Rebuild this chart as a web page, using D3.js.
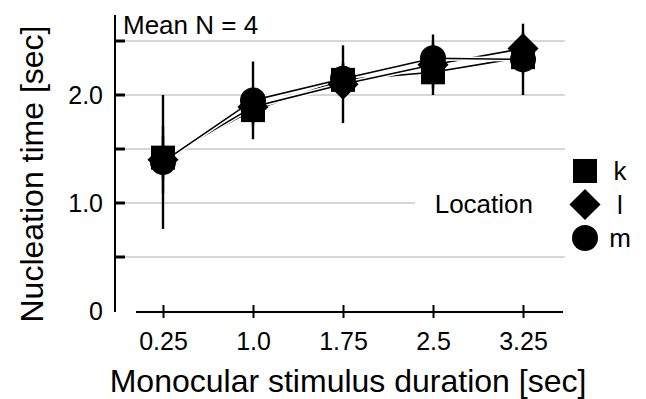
<!DOCTYPE html>
<html>
<head>
<meta charset="utf-8">
<script src="https://cdn.jsdelivr.net/npm/d3@7"></script>
<style>
  body { margin: 0; background: #fff; }
  svg text { font-family: "Liberation Sans", Arial, Helvetica, sans-serif; fill: #000; }
</style>
</head>
<body>
<svg id="chart" width="646" height="399"></svg>
<script>
// durations (x) and their labels
const durations = [0.25, 1.0, 1.75, 2.5, 3.25]
const durationLabels = ['0.25', '1.0', '1.75', '2.5', '3.25']

// mean nucleation time per location, and half-length of error bars
const locations = ['k', 'l', 'm']
const meanK = [1.42, 1.86, 2.14, 2.21, 2.35]
const meanL = [1.40, 1.89, 2.10, 2.28, 2.43]
const meanM = [1.38, 1.95, 2.15, 2.34, 2.33]
const errK = [0.20, 0.15, 0.15, 0.15, 0.15]
const errL = [0.31, 0.15, 0.36, 0.28, 0.15]
const errM = [0.62, 0.36, 0.15, 0.15, 0.33]

const yTicks = [0.5, 1.0, 1.5, 2.0, 2.5]
const yLabels = [[0, '0'], [1.0, '1.0'], [2.0, '2.0']]

const series = [
    {name: 'k', shape: 'square', mean: meanK, err: errK},
    {name: 'l', shape: 'diamond', mean: meanL, err: errL},
    {name: 'm', shape: 'circle', mean: meanM, err: errM}
]

const svg = d3.select('#chart')

const x = d3.scaleLinear().domain([0.25, 3.25]).range([163, 523])
const y = d3.scaleLinear().domain([0, 2.5]).range([311, 41])

// grid
const grid = svg.append('g')
grid.selectAll('line').data(yTicks).enter().append('line')
    .attr('x1', 125)
    .attr('x2', d => d === 1.0 ? 415 : 565)
    .attr('y1', d => y(d)).attr('y2', d => y(d))
    .attr('stroke', '#c8c8c8').attr('stroke-width', 1.5)

// y axis
svg.append('line')
    .attr('x1', 115).attr('x2', 115)
    .attr('y1', 15).attr('y2', y(0) + 1)
    .attr('stroke', '#000').attr('stroke-width', 2)
svg.selectAll('.ytick').data(yTicks).enter().append('line')
    .attr('class', 'ytick')
    .attr('x1', 115).attr('x2', 125)
    .attr('y1', d => y(d)).attr('y2', d => y(d))
    .attr('stroke', '#000').attr('stroke-width', 3)
svg.selectAll('.ylab').data(yLabels).enter().append('text')
    .attr('class', 'ylab')
    .attr('x', 103).attr('y', d => y(d[0]))
    .attr('dy', '0.36em')
    .attr('text-anchor', 'end')
    .style('font-size', '25px')
    .text(d => d[1])

// x axis
const xAxis = d3.axisBottom(x)
    .tickValues(durations)
    .tickFormat((d, i) => durationLabels[i])
    .tickSize(6)
    .tickPadding(14)
const gx = svg.append('g').attr('transform', 'translate(0,312)').call(xAxis)
gx.select('.domain').remove()
gx.insert('line', ':first-child')
    .attr('x1', 136).attr('x2', 563)
    .attr('stroke', '#000').attr('stroke-width', 2)
gx.selectAll('.tick line').attr('y1', -7).attr('y2', 6)
    .attr('stroke', '#000').attr('stroke-width', 2)
gx.selectAll('.tick text')
    .style('font-size', '25px')
    .style('font-family', '"Liberation Sans", Arial, sans-serif')
    .attr('fill', '#000')

// axis titles
svg.append('text')
    .attr('x', 348).attr('y', 392)
    .attr('text-anchor', 'middle')
    .style('font-size', '32px')
    .text('Monocular stimulus duration [sec]')
svg.append('text')
    .attr('transform', 'translate(43,174) rotate(-90)')
    .attr('text-anchor', 'middle')
    .style('font-size', '32px')
    .text('Nucleation time [sec]')

svg.append('text')
    .attr('x', 123).attr('y', 34)
    .style('font-size', '26px')
    .text('Mean N = 4')

// error bars
series.forEach(s => {
    svg.append('g').selectAll('line').data(durations).enter().append('line')
        .attr('x1', d => x(d)).attr('x2', d => x(d))
        .attr('y1', (d, i) => y(s.mean[i] + s.err[i]))
        .attr('y2', (d, i) => y(s.mean[i] - s.err[i]))
        .attr('stroke', '#000').attr('stroke-width', 2.4)
})

// lines
const line = d3.line().x(d => x(d[0])).y(d => y(d[1]))
series.forEach(s => {
    const pts = durations.map((d, i) => [d, s.mean[i]])
    svg.append('path').attr('d', line(pts))
        .attr('fill', 'none').attr('stroke', '#fff').attr('stroke-width', 4.5)
    svg.append('path').attr('d', line(pts))
        .attr('fill', 'none').attr('stroke', '#000').attr('stroke-width', 1.6)
})

const symbols = {
    square: {gen: d3.symbol().type(d3.symbolSquare).size(24 * 24), rot: 0},
    diamond: {gen: d3.symbol().type(d3.symbolSquare).size(22 * 22), rot: 45},
    circle: {gen: d3.symbol().type(d3.symbolCircle).size(Math.PI * 13 * 13), rot: 0}
}

// markers
series.slice().reverse().forEach(s => {
    const sym = symbols[s.shape]
    svg.append('g').selectAll('path').data(durations).enter().append('path')
        .attr('d', sym.gen)
        .attr('transform', (d, i) => `translate(${x(d)},${y(s.mean[i])}) rotate(${sym.rot})`)
        .attr('fill', '#000')
})

// legend
svg.append('text')
    .attr('x', 533).attr('y', 213)
    .attr('text-anchor', 'end')
    .style('font-size', '26px')
    .text('Location')
const legend = svg.append('g').selectAll('g').data(series).enter().append('g')
    .attr('transform', (d, i) => `translate(585,${171 + i * 33.5})`)
legend.append('path')
    .attr('d', d => symbols[d.shape].gen())
    .attr('transform', d => `rotate(${symbols[d.shape].rot})`)
    .attr('fill', '#000')
legend.append('text')
    .attr('x', 35).attr('dy', '0.36em')
    .attr('text-anchor', 'middle')
    .style('font-size', '26px')
    .text(d => d.name)
</script>
</body>
</html>
